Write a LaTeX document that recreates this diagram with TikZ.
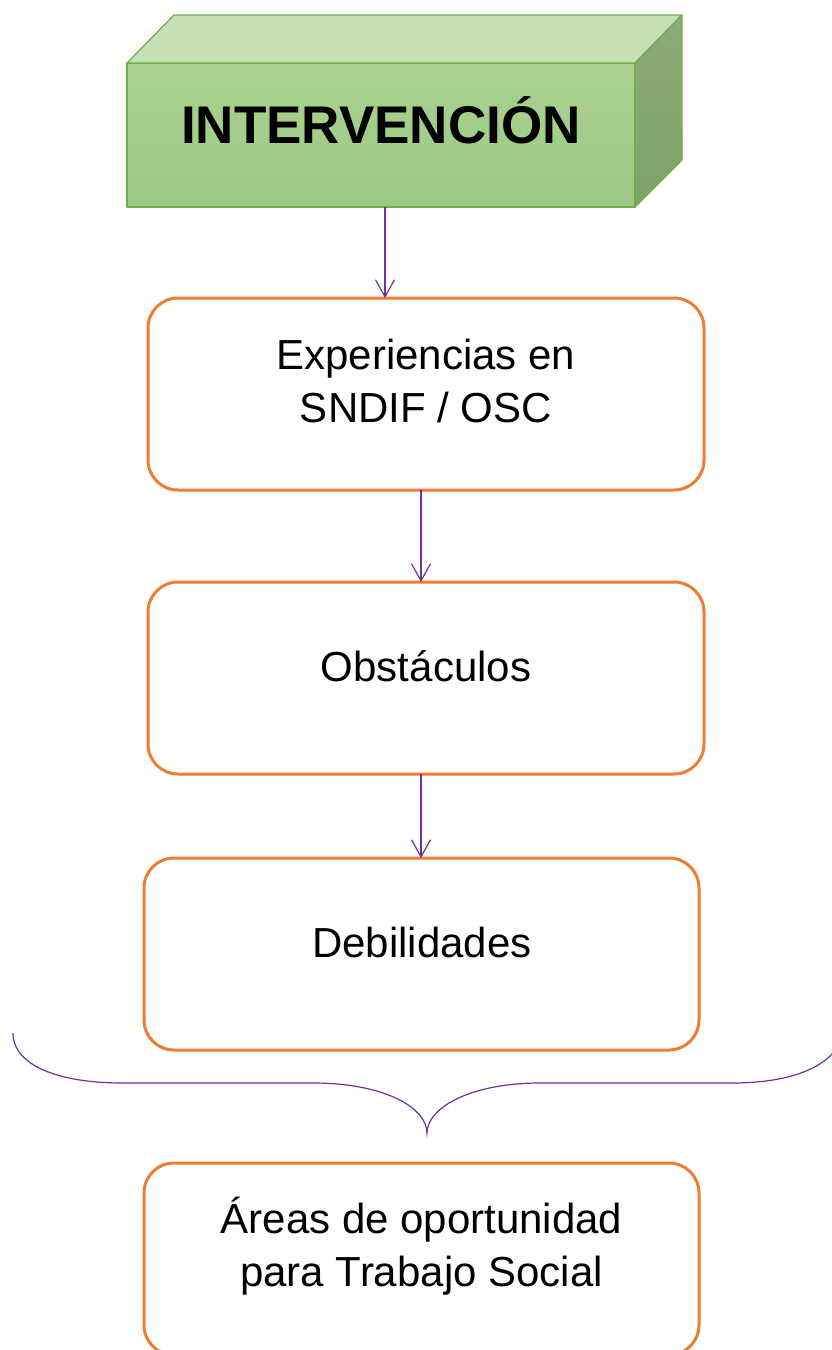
\documentclass[tikz,border=0pt]{standalone}
\usepackage{fontspec}
\setmainfont{Liberation Sans}
\usetikzlibrary{arrows.meta}
\definecolor{boxorange}{HTML}{ED7D31}
\definecolor{linkpurple}{HTML}{7030A0}
\definecolor{cubeedge}{HTML}{70AD47}
\definecolor{cubetop}{HTML}{C5E0B4}
\definecolor{cubefronttop}{HTML}{AAD18F}
\definecolor{cubefrontbot}{HTML}{9CC985}
\definecolor{cubesidetop}{HTML}{8CAB7B}
\definecolor{cubesidebot}{HTML}{7EA26A}
\begin{document}
\begin{tikzpicture}[x=1pt, y=-1pt,
    box/.style={draw=boxorange, line width=3pt, rounded corners=30pt,
                minimum width=556pt, minimum height=192pt, inner sep=0pt, outer sep=0pt},
    link/.style={draw=linkpurple, line width=1.2pt, -{Straight Barb[length=17pt, width=19pt]}},
    face/.style={draw=cubeedge, line width=1.2pt, line join=round}]
\tikzset{every node/.style={font=\fontsize{42}{53}\selectfont, align=center}}
%\tikzset{every node/.style={font=\fontsize{40}{52}\selectfont,
%                            align=center,
%                            text=black
%                           }}
\useasboundingbox (0,0) rectangle (832,1350);
\node[face, minimum width=508pt, minimum height=144pt, inner sep=0pt, outer sep=0pt,
      top color=cubefronttop, bottom color=cubefrontbot] (interv) at (381,135) {};
\shade[face, top color=cubetop, bottom color=cubetop]
    (interv.north west) -- ++(47,-48) -- ++(508,0) -- (interv.north east) -- cycle;
\shade[face, top color=cubesidetop, bottom color=cubesidebot]
    (interv.north east) -- ++(47,-48) -- ++(0,145) -- (interv.south east) -- cycle;
\node[anchor=base, font=\bfseries\fontsize{53}{60}\selectfont] (intervtext) at (381,143) {INTERVENCIÓN};

\node[box] (exper) at (426,394) {};
\node (expertext) at (426,381) {Experiencias en\\SNDIF / OSC};
\node[box] (obst) at (426,678) {};
\node[anchor=base] (obsttext) at (426,681) {Obstáculos};
\node[box, minimum width=555pt] (debil) at (421.5,954) {};
\node[anchor=base] (debiltext) at (422,957) {Debilidades};
\node[box, minimum width=555pt] (areas) at (421.5,1259) {};
\node (areastext) at (421.5,1246) {Áreas de oportunidad\\para Trabajo Social};

\draw[link] ([xshift=4pt]interv.south) coordinate (l1) -- (l1 |- exper.north);
\draw[link] ([xshift=-5pt]exper.south) coordinate (l2) -- (l2 |- obst.north);
\draw[link] ([xshift=-5pt]obst.south) coordinate (l3) -- (l3 |- debil.north);

\coordinate (braceleft) at (13,1033);
\coordinate (bracetip) at (427,1133);
\coordinate (braceright) at (845,1028);
\draw[linkpurple, line width=1.2pt] (braceleft)
    .. controls (13,1066) and (60,1083) .. (122,1083) -- (313,1083)
    .. controls (385,1083) and (427,1108) .. (bracetip)
    .. controls (427,1108) and (470,1083) .. (540,1083) -- (732,1083)
    .. controls (800,1083) and (840,1062) .. (braceright);
\end{tikzpicture}
\end{document}
